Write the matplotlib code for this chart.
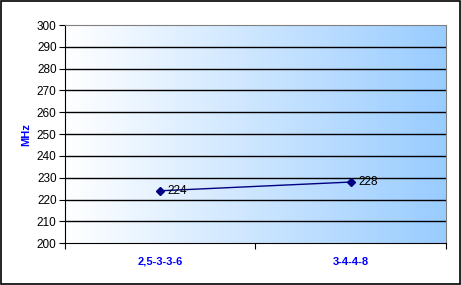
import numpy as np
import matplotlib.pyplot as plt
from matplotlib.colors import LinearSegmentedColormap
from matplotlib.patches import Rectangle

categories = ['2,5-3-3-6', '3-4-4-8']
values = [224, 228]
y_ticks = list(range(200, 301, 10))

fig = plt.figure(figsize=(4.61, 2.85), dpi=100)
fig.patch.set_facecolor('white')
fig.add_artist(Rectangle((0.002, 0.004), 0.995, 0.992, transform=fig.transFigure,
                         fill=False, edgecolor='black', linewidth=1.2))

ax = fig.add_axes([0.141, 0.147, 0.826, 0.765])

# gradient background, white -> light blue
cmap = LinearSegmentedColormap.from_list('bg', ['#ffffff', '#99ccff'])
grad = np.linspace(0, 1, 256).reshape(1, -1)
ax.imshow(grad, cmap=cmap, aspect='auto', extent=[0, 2, 200, 300], zorder=0)

ax.set_xlim(0, 2)
ax.set_ylim(200, 300)
ax.set_yticks(y_ticks)
ax.set_yticklabels([str(t) for t in y_ticks], fontsize=8.5, family='Liberation Sans')

for t in y_ticks[1:-1]:
    ax.axhline(t, color='black', linewidth=1, zorder=1)

x = [0.5, 1.5]
ax.plot(x, values, color='#000080', marker='D', markersize=4, linewidth=1, zorder=3)
for xi, v in zip(x, values):
    ax.text(xi + 0.04, v, str(v), fontsize=8.5, family='Liberation Sans',
            va='center', ha='left', zorder=4)

ax.set_xticks([0, 1, 2])
ax.set_xticklabels([])
ax.set_xticks(x, minor=True)
ax.set_xticklabels(categories, minor=True, color='#0000ff', fontweight='bold',
                   fontsize=8, family='Liberation Sans')
ax.tick_params(axis='x', which='minor', length=0, pad=10)
ax.tick_params(axis='x', which='major', length=4, direction='out', color='black')
ax.tick_params(axis='y', length=4, direction='out', pad=2)

ax.set_ylabel('MHz', color='#0000ff', fontweight='bold', fontsize=8,
              family='Liberation Sans', labelpad=4)

ax.spines['left'].set_color('black')
ax.spines['bottom'].set_color('black')
ax.spines['top'].set_color('#808080')
ax.spines['right'].set_color('#808080')

fig.savefig('out.png', dpi=100)
